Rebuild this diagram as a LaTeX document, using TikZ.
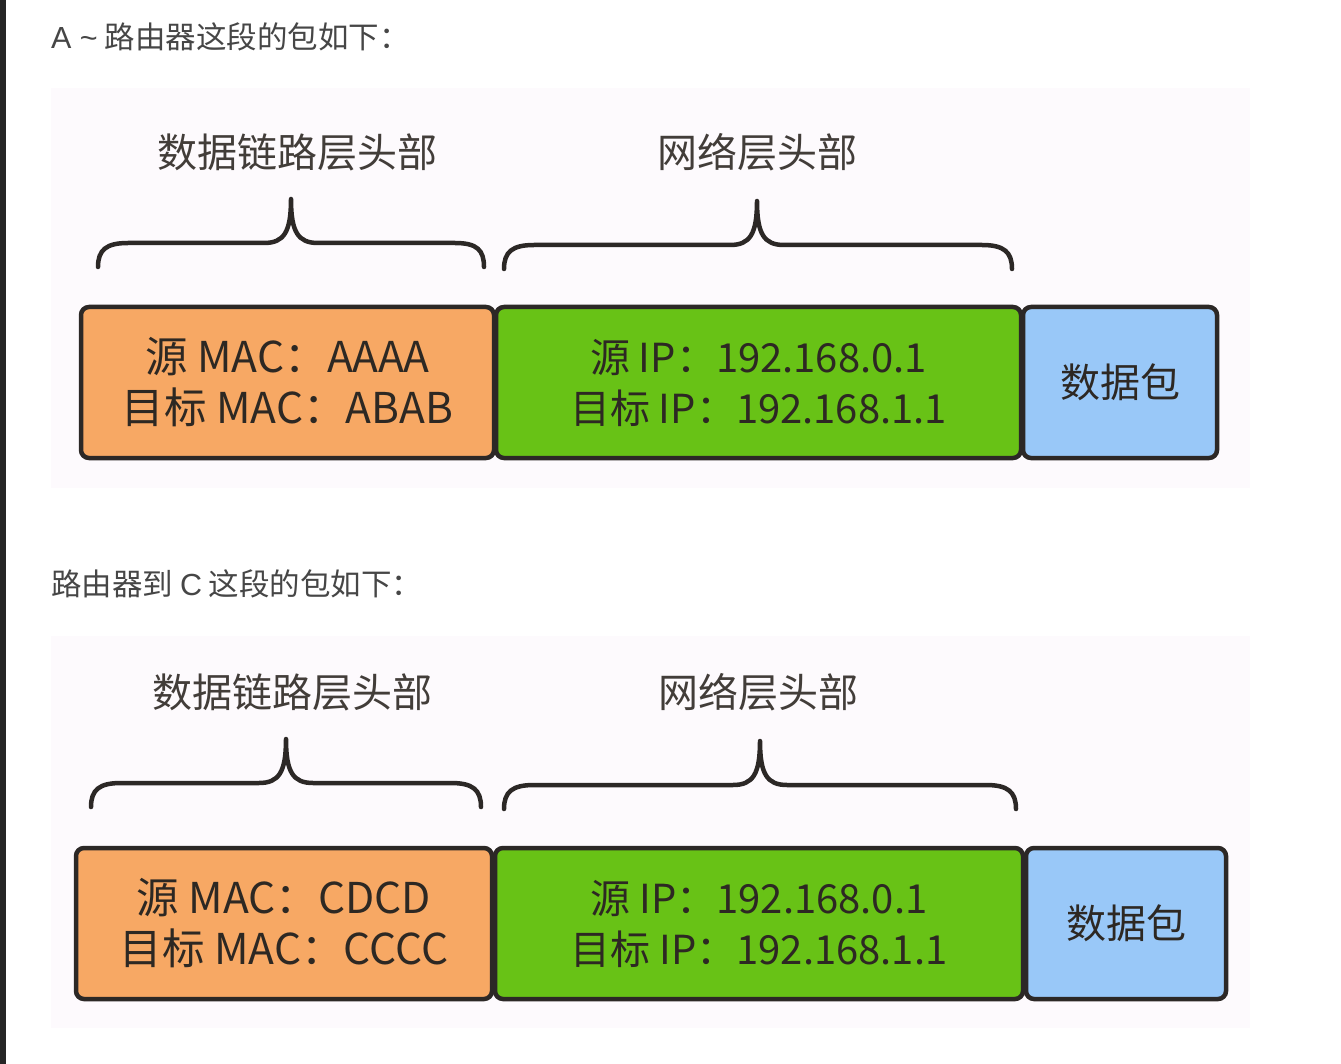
\documentclass[tikz,border=0pt]{standalone}
\usepackage{fontspec}
\setmainfont{Noto Sans CJK SC}
\newfontfamily\latinsans{Liberation Sans}
\begin{document}
\definecolor{panelbg}{RGB}{253,250,253}
\definecolor{edge}{RGB}{44,40,38}
\definecolor{macfill}{RGB}{247,168,100}
\definecolor{ipfill}{RGB}{104,194,22}
\definecolor{datafill}{RGB}{153,200,248}
\definecolor{titlegray}{RGB}{70,70,70}
\definecolor{inktext}{RGB}{45,40,35}
\begin{tikzpicture}[x=1pt,y=-1pt,
  panel/.style={fill=panelbg,draw=none},
  pkt/.style={draw=edge,line width=4.5pt,rounded corners=8pt,inner sep=0pt,
    align=center,text=inktext,font=\fontsize{40}{51}\selectfont},
  macpkt/.style={pkt,font=\fontsize{42.5}{51}\selectfont},
  hdrlabel/.style={inner sep=0pt,text=inktext!90,font=\fontsize{40}{48}\selectfont},
  caption/.style={inner sep=0pt,anchor=west,text=titlegray,font=\fontsize{30.5}{34}\selectfont},
  bracket/.style={draw=edge,line width=4.5pt,line cap=round,line join=round}]
\useasboundingbox (0,0) rectangle (1341,1064);
\fill[white] (0,0) rectangle (1341,1064);
% dark window edge on the left
\fill[black!85] (0,0) rectangle (6,1064);

% ---------- first hop: host A to router ----------
\node[caption] (capA) at (51,37) {{\latinsans A {\char`~}} 路由器这段的包如下：};
\fill[panel] (51,88) rectangle (1250,488);
\node[hdrlabel] (dlA) at (297,152) {数据链路层头部};
\node[hdrlabel] (nlA) at (757,152) {网络层头部};

\draw[bracket] (98,267) .. controls (98,250) and (106,243) .. (128,243)
  -- (264,243) .. controls (284,243) and (291,232) .. (291,199)
  .. controls (291,232) and (298,243) .. (318,243)
  -- (455,243) .. controls (477,243) and (484,250) .. (484,267);
\draw[bracket] (504,269) .. controls (504,252) and (512,245) .. (534,245)
  -- (730,245) .. controls (750,245) and (757,234) .. (757,201)
  .. controls (757,234) and (764,245) .. (784,245)
  -- (982,245) .. controls (1004,245) and (1012,252) .. (1012,269);

\node[macpkt,fill=macfill,minimum width=413pt,minimum height=151pt]
  (macA) at (287.5,382.5) {源 MAC：AAAA\\目标 MAC：ABAB};
\node[pkt,fill=ipfill,minimum width=525pt,minimum height=151pt]
  (ipA) at (758.5,382.5) {源 IP：192.168.0.1\\目标 IP：192.168.1.1};
\node[pkt,fill=datafill,minimum width=194pt,minimum height=151pt]
  (dataA) at (1120,382.5) {数据包};

% ---------- second hop: router to host C ----------
\node[caption] (capC) at (51,584) {路由器到 {\latinsans C} 这段的包如下：};
\fill[panel] (51,636) rectangle (1250,1028);
\node[hdrlabel] (dlC) at (292,692) {数据链路层头部};
\node[hdrlabel] (nlC) at (758,692) {网络层头部};

\draw[bracket] (91,807) .. controls (91,790) and (99,783) .. (121,783)
  -- (259,783) .. controls (279,783) and (286,772) .. (286,739)
  .. controls (286,772) and (293,783) .. (313,783)
  -- (451,783) .. controls (473,783) and (481,790) .. (481,807);
\draw[bracket] (504,809) .. controls (504,792) and (512,785) .. (534,785)
  -- (733,785) .. controls (753,785) and (760,774) .. (760,741)
  .. controls (760,774) and (767,785) .. (787,785)
  -- (986,785) .. controls (1008,785) and (1016,792) .. (1016,809);

\node[macpkt,fill=macfill,minimum width=416pt,minimum height=151pt]
  (macC) at (284,923.5) {源 MAC：CDCD\\目标 MAC：CCCC};
\node[pkt,fill=ipfill,minimum width=528pt,minimum height=151pt]
  (ipC) at (759,923.5) {源 IP：192.168.0.1\\目标 IP：192.168.1.1};
\node[pkt,fill=datafill,minimum width=200pt,minimum height=151pt]
  (dataC) at (1126,923.5) {数据包};
\end{tikzpicture}
\end{document}
